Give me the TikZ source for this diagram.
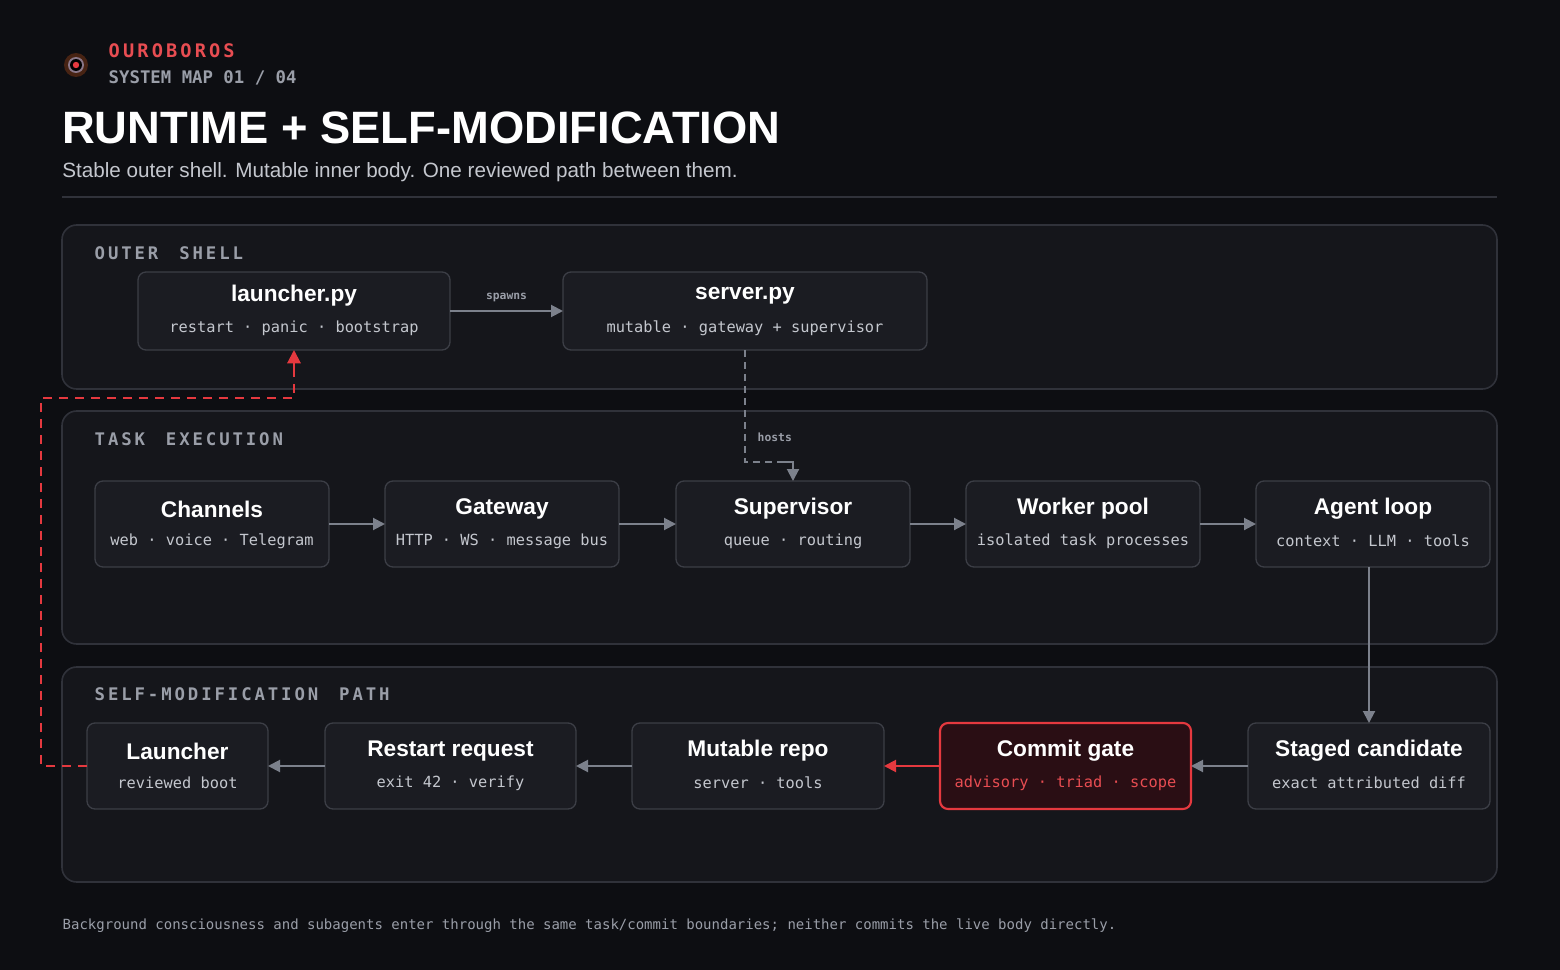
\documentclass[tikz,border=0pt]{standalone}
\usepackage{fontspec}
\setmainfont{Liberation Sans}
\setsansfont{Liberation Sans}
\setmonofont{DejaVu Sans Mono}
\usetikzlibrary{arrows.meta}
\definecolor{bg}{HTML}{0D0E12}
\definecolor{panel}{HTML}{15161B}
\definecolor{pline}{HTML}{30323A}
\definecolor{nfill}{HTML}{1B1C22}
\definecolor{nline}{HTML}{3C3E46}
\definecolor{arr}{HTML}{7C818C}
\definecolor{red}{HTML}{E5393F}
\definecolor{gfill}{HTML}{2A0E14}
\definecolor{mut}{HTML}{9A9EA8}
\definecolor{sub}{HTML}{C4C7CE}
\begin{document}
\begin{tikzpicture}[x=0.75pt,y=-0.75pt,
 panelbox/.style={draw=pline,fill=panel,line width=1.2pt,rounded corners=11pt},
 nbox/.style={draw=nline,fill=nfill,line width=1pt,rounded corners=6pt},
 gbox/.style={draw=red,fill=gfill,line width=1.6pt,rounded corners=6pt},
 ttl/.style={font=\fontsize{17}{20}\selectfont\bfseries,text=white},
 st/.style={font=\ttfamily\fontsize{11.5}{14}\selectfont,text=sub},
 sec/.style={anchor=west,font=\ttfamily\bfseries\fontsize{13}{15}\selectfont,text=mut},
 ar/.style={draw=arr,line width=1.5pt,-{Triangle[length=9pt,width=9pt]}},
 lab/.style={font=\ttfamily\bfseries\fontsize{8.5}{10}\selectfont,text=mut}]
\fill[bg] (0,0) rectangle (1560,970);
\useasboundingbox (0,0) rectangle (1560,970);
% logo
\fill[red!40!orange,opacity=0.25] (76,65) circle (12);
\fill[white!80!blue,opacity=0.5] (76,65) circle (8);
\fill[black] (76,65) circle (6);
\fill[red] (76,65) circle (3.2);
\node[anchor=west,font=\ttfamily\bfseries\fontsize{14}{16}\selectfont,text=red!90!white] (brand) at (104,51) {O\,U\,R\,O\,B\,O\,R\,O\,S};
\node[anchor=west,font=\ttfamily\bfseries\fontsize{13}{16}\selectfont,text=mut] (map) at (104,78) {SYSTEM MAP 01 / 04};
\node[anchor=base west,inner sep=0,font=\fontsize{34}{40}\selectfont\bfseries,text=white] (title) at (62,144) {RUNTIME + SELF-MODIFICATION};
\node[anchor=base west,inner sep=0,font=\fontsize{15.5}{18}\selectfont,text=sub] (subt) at (62,178) {Stable outer shell. Mutable inner body. One reviewed path between them.};
\draw[pline,line width=1.2pt] (62,197) -- (1497,197);
% panels
\draw[panelbox] (62,225) rectangle (1497,389);
\draw[panelbox] (62,411) rectangle (1497,644);
\draw[panelbox] (62,667) rectangle (1497,882);
\node[sec] (s1) at (90,253) {O\,U\,T\,E\,R\ \ S\,H\,E\,L\,L};
\node[sec] (s2) at (90,439) {T\,A\,S\,K\ \ E\,X\,E\,C\,U\,T\,I\,O\,N};
\node[sec] (s3) at (90,694) {S\,E\,L\,F\,-\,M\,O\,D\,I\,F\,I\,C\,A\,T\,I\,O\,N\ \ P\,A\,T\,H};
% node macro
\newcommand{\mybox}[8]{%
 \draw[#8] (#2,#3) rectangle (#4,#5);
 \coordinate (#1) at ({(#2+#4)/2},{(#3+#5)/2});
 \node[ttl] at ({(#2+#4)/2},{(#3+#5)/2-15}) {#6};
 \node[st] at ({(#2+#4)/2},{(#3+#5)/2+17}) {#7};}
\mybox{lp}{138}{272}{450}{350}{launcher.py}{restart · panic · bootstrap}{nbox}
\mybox{sp}{563}{272}{927}{350}{server.py}{mutable · gateway + supervisor}{nbox}
\mybox{ch}{95}{481}{329}{567}{Channels}{web · voice · Telegram}{nbox}
\mybox{gw}{385}{481}{619}{567}{Gateway}{HTTP · WS · message bus}{nbox}
\mybox{su}{676}{481}{910}{567}{Supervisor}{queue · routing}{nbox}
\mybox{wp}{966}{481}{1200}{567}{Worker pool}{isolated task processes}{nbox}
\mybox{al}{1256}{481}{1490}{567}{Agent loop}{context · LLM · tools}{nbox}
\mybox{la}{87}{723}{268}{809}{Launcher}{reviewed boot}{nbox}
\mybox{rr}{325}{723}{576}{809}{Restart request}{exit 42 · verify}{nbox}
\mybox{mr}{632}{723}{884}{809}{Mutable repo}{server · tools}{nbox}
\draw[gbox] (940,723) rectangle (1191,809);
\coordinate (cg) at (1065.5,766);
\node[ttl] at (1065.5,751) {Commit gate};
\node[st,text=red!90!white] at (1065.5,783) {advisory · triad · scope};
\mybox{sc}{1248}{723}{1490}{809}{Staged candidate}{exact attributed diff}{nbox}
% arrows
\draw[ar] (450,311) -- (563,311) node[midway,above=3pt,lab] {spawns};
\draw[ar] (329,524) -- (385,524);
\draw[ar] (619,524) -- (676,524);
\draw[ar] (910,524) -- (966,524);
\draw[ar] (1200,524) -- (1256,524);
\draw[ar] (1369,567) -- (1369,723);
\draw[ar] (1248,766) -- (1191,766);
\draw[ar,draw=red] (940,766) -- (884,766);
\draw[ar] (632,766) -- (576,766);
\draw[ar] (325,766) -- (268,766);
\draw[draw=arr,line width=1.5pt,dash pattern=on 5pt off 4pt] (745,350) -- (745,462) -- (784,462);
\draw[ar] (784,462) -- (793,462) -- (793,481);
\node[lab,anchor=west] at (753,437) {hosts};
\draw[draw=red,line width=1.5pt,dash pattern=on 7pt off 5pt] (87,766) -- (41,766) -- (41,398) -- (294,398) -- (294,370);
\draw[draw=red,line width=1.5pt,-{Triangle[length=10pt,width=10pt]}] (294,372) -- (294,350);
\node[anchor=west,font=\ttfamily\fontsize{10.5}{12}\selectfont,text=mut] (foot) at (58,926) {Background consciousness and subagents enter through the same task/commit boundaries; neither commits the live body directly.};
\end{tikzpicture}
\end{document}
